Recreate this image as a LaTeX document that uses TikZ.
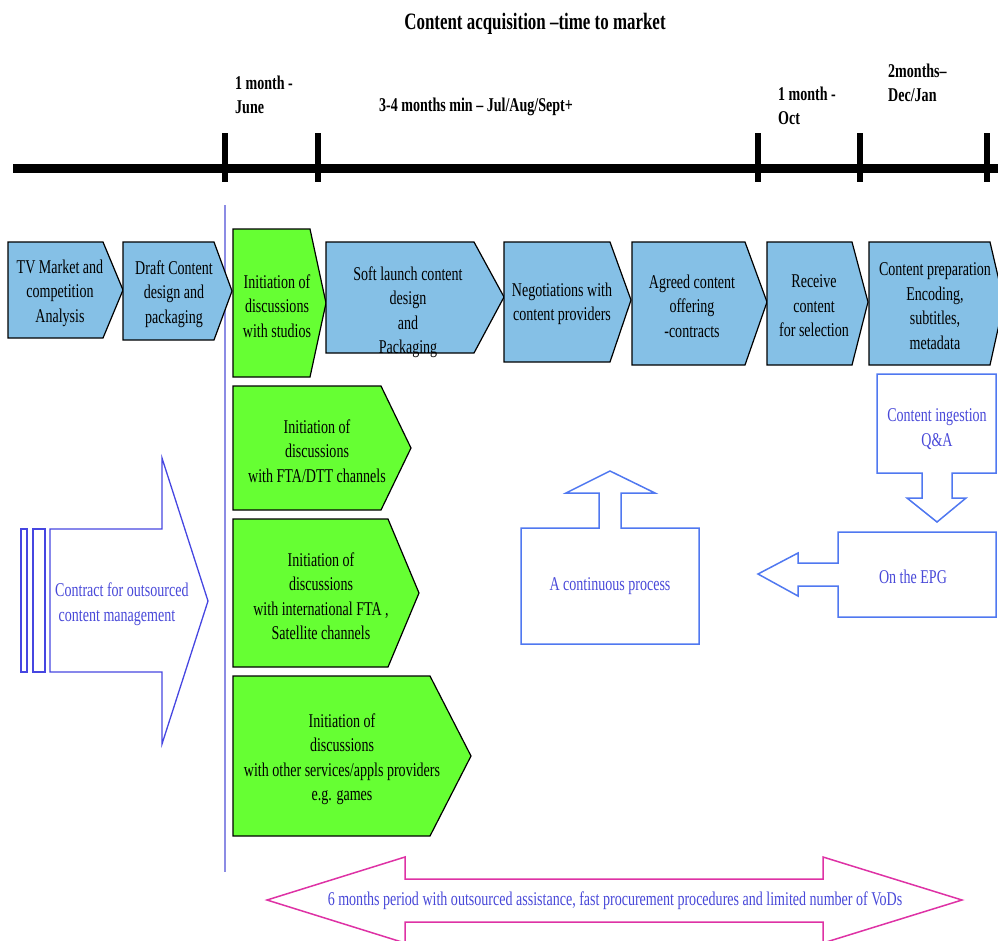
\documentclass[tikz,border=0pt]{standalone}
\usepackage{fontspec}
\setmainfont[FakeStretch=0.72]{Liberation Serif}

\definecolor{stepblue}{RGB}{133,192,230}
\definecolor{stepgreen}{RGB}{102,255,51}
\definecolor{inkblue}{RGB}{72,72,216}
\definecolor{outlineblue}{RGB}{70,70,225}
\definecolor{brightblue}{RGB}{80,120,240}
\definecolor{divider}{RGB}{140,140,228}
\definecolor{periodpink}{RGB}{222,50,165}

% chevron: style, left, top, bottom, right, tip x, tip y
\newcommand\chevron[7]{%
  \draw[#1] (#2,#3) -- (#5,#3) -- (#6,#7) -- (#5,#4) -- (#2,#4) -- cycle;}

\begin{document}
\begin{tikzpicture}[x=1pt,y=-1pt,
  bluestep/.style={draw=black,line width=1.2pt,fill=stepblue,line join=miter},
  greenstep/.style={draw=black,line width=1.2pt,fill=stepgreen,line join=miter},
  txt/.style={inner sep=0pt,align=center,font=\fontsize{19.5}{24.5}\selectfont},
  bluetxt/.style={txt,text=inkblue},
  timelbl/.style={inner sep=0pt,align=left,anchor=west,font=\fontsize{19.5}{24.5}\selectfont\bfseries},
  outline/.style={draw=outlineblue,line width=1.3pt,line join=miter},
  brightoutline/.style={draw=brightblue,line width=1.5pt,line join=miter},
  timeline/.style={line width=9pt},
  tick/.style={line width=6pt}]
\useasboundingbox (0,0) rectangle (998,940);

% title
\node[txt,font=\fontsize{23.5}{28}\selectfont\bfseries] (title) at (535,24)
  {Content acquisition –time to market};

% time axis with period marks
\coordinate (axL) at (13,168);
\coordinate (axR) at (1000,168);
\draw[timeline] (axL) -- (axR);
\foreach \x in {225,318,758,860,987}
  \draw[tick] (\x,133) -- (\x,182);

\node[timelbl] (june) at (235,95) {1 month -\\June};
\node[txt,font=\fontsize{19.5}{24.5}\selectfont\bfseries] (summer) at (476,107)
  {3-4 months min – Jul/Aug/Sept+};
\node[timelbl] (oct) at (778,106) {1 month -\\Oct};
\node[timelbl] (decjan) at (888,83) {2months–\\Dec/Jan};

% divider
\coordinate (dvT) at (225,205);
\coordinate (dvB) at (225,872);
\draw[divider,line width=2pt] (dvT) -- (dvB);

% main process row
\chevron{bluestep}{8}{242}{338}{103}{123}{290}
\chevron{bluestep}{123}{242}{340}{214}{232}{291}
\chevron{greenstep}{233}{229}{377}{310}{326}{303}
\chevron{bluestep}{326}{242}{353}{474}{504}{297}
\chevron{bluestep}{504}{242}{362}{610}{631}{300}
\chevron{bluestep}{632}{242}{365}{745}{767}{302}
\chevron{bluestep}{767}{242}{365}{852}{868}{302}
\chevron{bluestep}{869}{242}{365}{990}{1004}{302}

\node[txt] (market) at (60,293) {TV Market and\\competition\\Analysis};
\node[txt] (draft) at (174,294) {Draft Content\\design and\\packaging};
\node[txt] (studios) at (277,306) {Initiation of\\discussions\\with studios};
\node[txt] (soft) at (408,312) {Soft launch content\\design\\and\\Packaging};
\node[txt] (nego) at (562,304) {Negotiations with\\content providers};
\node[txt] (agreed) at (692,306) {Agreed content\\offering\\-contracts};
\node[txt] (receive) at (814,306) {Receive\\content\\for selection};
\node[txt] (prep) at (935,306) {Content preparation\\Encoding,\\subtitles,\\metadata};

% parallel discussions
\chevron{greenstep}{233}{386}{510}{381}{411}{448}
\chevron{greenstep}{233}{519}{667}{388}{419}{593}
\chevron{greenstep}{233}{676}{836}{430}{471}{756}

\node[txt] (fta) at (317,451) {Initiation of\\discussions\\with FTA/DTT channels};
\node[txt] (intl) at (321,596) {Initiation of\\discussions\\with international FTA ,\\Satellite channels};
\node[txt] (other) at (342,759) {Initiation of\\discussions\\with other services/appls providers\\e.g. games};

% outsourced contract arrow
\draw[outline] (21,529) rectangle (27,672);
\draw[outline] (33,529) rectangle (45,672);
\draw[outline] (50,529) -- (162,529) -- (162,458) -- (208,601) -- (162,744)
  -- (162,672) -- (50,672) -- cycle;
\node[bluetxt,align=left,anchor=west] (contract) at (55,604)
  {Contract for outsourced\\\ content management};

% ingestion and publication loop
\draw[brightoutline] (877,374) -- (996,374) -- (996,473) -- (952,473) -- (952,498)
  -- (966,498) -- (937,522) -- (907,498) -- (922,498) -- (922,473) -- (877,473) -- cycle;
\node[bluetxt] (ingest) at (937,429) {Content ingestion\\Q\&A};

\draw[brightoutline] (838,532) -- (996,532) -- (996,617) -- (838,617) -- (838,586)
  -- (798,586) -- (798,596) -- (758,574) -- (798,553) -- (798,563) -- (838,563) -- cycle;
\node[bluetxt] (epg) at (913,577) {On the EPG};

\draw[brightoutline] (521,528) -- (599,528) -- (599,493) -- (566,493) -- (610,471)
  -- (655,493) -- (621,493) -- (621,528) -- (699,528) -- (699,644) -- (521,644) -- cycle;
\node[bluetxt] (continuous) at (610,586) {A continuous process};

% overall period
\draw[draw=periodpink,line width=1.5pt,line join=miter] (267,900) -- (405,857) -- (405,879)
  -- (823,879) -- (823,857) -- (962,900) -- (823,943) -- (823,922) -- (405,922)
  -- (405,943) -- cycle;
\node[bluetxt] (period) at (615,901)
  {6 months period with outsourced assistance, fast procurement procedures and limited number of VoDs};
\end{tikzpicture}
\end{document}
